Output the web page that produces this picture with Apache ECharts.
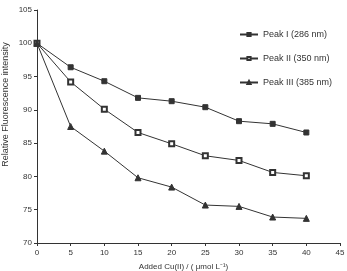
<!DOCTYPE html>
<html>
    <head>
        <meta charset="UTF-8">
        <title>Fluorescence quenching</title>
        <script src="https://cdn.jsdelivr.net/npm/echarts@6/dist/echarts.min.js"></script>
        <style>
            html, body { margin: 0; padding: 0; background: #fff; }
            #chart { width: 347px; height: 271px; }
        </style>
    </head>
    <body>
        <div id="chart"></div>
        <script>
            const added = [0, 5, 10, 15, 20, 25, 30, 35, 40];
            const peakI = [100, 96.4, 94.3, 91.8, 91.3, 90.4, 88.3, 87.9, 86.6];
            const peakII = [100, 94.2, 90.1, 86.6, 84.9, 83.1, 82.4, 80.6, 80.1];
            const peakIII = [100, 87.5, 83.8, 79.8, 78.4, 75.7, 75.5, 73.9, 73.7];
            const seriesNames = ['Peak I (286 nm)', 'Peak II (350 nm)', 'Peak III (385 nm)'];

            const font = 'Liberation Sans';
            const ink = '#333';

            function pairs(ys) {
                return added.map((x, i) => [x, ys[i]]);
            }

            function makeSeries(name, ys, symbol, size) {
                return {
                    name: name,
                    type: 'line',
                    data: pairs(ys),
                    symbol: symbol,
                    symbolSize: size,
                    showAllSymbol: true,
                    lineStyle: { color: ink, width: 1 },
                    itemStyle: { color: ink, borderColor: ink, borderWidth: 1 },
                    emphasis: { disabled: true }
                };
            }

            const chart = echarts.init(document.getElementById('chart'));
            chart.setOption({
                animation: false,
                grid: { left: 37, right: 7, top: 10, bottom: 28, outerBoundsMode: 'none' },
                legend: {
                    orient: 'vertical',
                    left: 234,
                    top: 25,
                    itemGap: 15,
                    itemWidth: 18,
                    itemHeight: 4,
                    textStyle: { fontFamily: font, fontSize: 9, color: ink },
                    data: seriesNames
                },
                xAxis: {
                    type: 'value',
                    min: 0,
                    max: 45,
                    interval: 5,
                    name: 'Added Cu(II) / ( μmol L⁻¹)',
                    nameLocation: 'middle',
                    nameMoveOverlap: false,
                    nameGap: 20,
                    nameTextStyle: { fontFamily: font, fontSize: 8, color: ink, padding: [0, 10, 0, 0] },
                    axisLine: { lineStyle: { color: ink, width: 1 } },
                    axisTick: { inside: false, length: 3, lineStyle: { color: ink } },
                    axisLabel: { fontFamily: font, fontSize: 8, color: ink, margin: 6 },
                    splitLine: { show: false }
                },
                yAxis: {
                    type: 'value',
                    min: 70,
                    max: 105,
                    interval: 5,
                    name: 'Relative Fluorescence intensity',
                    nameLocation: 'middle',
                    nameMoveOverlap: false,
                    nameGap: 27,
                    nameTextStyle: { fontFamily: font, fontSize: 9, color: ink, padding: [0, 0, 0, 44] },
                    axisLine: { show: true, lineStyle: { color: ink, width: 1 } },
                    axisTick: { show: true, inside: false, length: 3, lineStyle: { color: ink } },
                    axisLabel: { fontFamily: font, fontSize: 8, color: ink, margin: 5 },
                    splitLine: { show: false }
                },
                series: [
                    makeSeries(seriesNames[0], peakI, 'rect', 5),
                    makeSeries(seriesNames[1], peakII, 'emptyRect', 5),
                    makeSeries(seriesNames[2], peakIII, 'triangle', 6)
                ]
            });
        </script>
    </body>
</html>
